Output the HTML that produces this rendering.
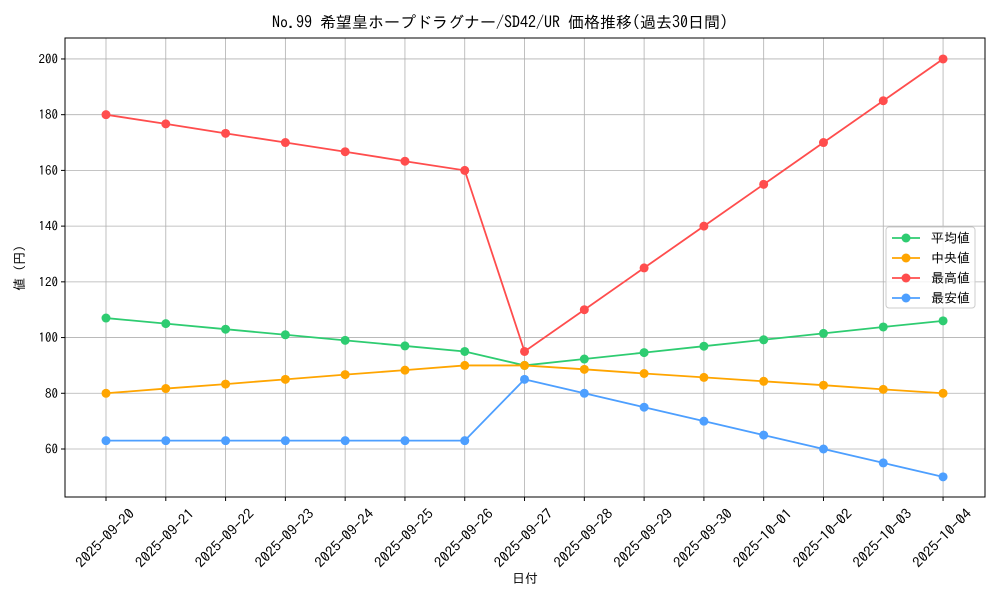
<!DOCTYPE html>
<html><head><meta charset="utf-8"><style>
body{margin:0;background:#fff}
svg text{font-family:"IPAGothic","Liberation Sans",sans-serif;fill:#000}
</style></head><body>
<svg id="c" width="1000" height="600" xmlns="http://www.w3.org/2000/svg"></svg>
<script>
const s=document.getElementById('c');
const L=65,R=985,T=38,B=497;
const X=i=>106+i*59.79, Y=v=>449-(v-60)*2.786;
let h='<rect width="1000" height="600" fill="#fff"/>';
const dates=["2025-09-20","2025-09-21","2025-09-22","2025-09-23","2025-09-24","2025-09-25","2025-09-26","2025-09-27","2025-09-28","2025-09-29","2025-09-30","2025-10-01","2025-10-02","2025-10-03","2025-10-04"];
for(let i=0;i<15;i++){const x=X(i);h+=`<line x1="${x}" y1="${T}" x2="${x}" y2="${B}" stroke="#b0b0b0" stroke-width="0.8"/>`;
h+=`<line x1="${x}" y1="${B}" x2="${x}" y2="${B+4}" stroke="#000"/>`;
h+=`<text transform="translate(${x-1},${538}) rotate(-45)" text-anchor="middle" font-size="14" dy="0.35em" textLength="76" lengthAdjust="spacingAndGlyphs">${dates[i]}</text>`;}
for(let v=60;v<=200;v+=20){const y=Y(v);h+=`<line x1="${L}" y1="${y}" x2="${R}" y2="${y}" stroke="#b0b0b0" stroke-width="0.8"/>`;
h+=`<line x1="${L-4}" y1="${y}" x2="${L}" y2="${y}" stroke="#000"/><text x="${L-7}" y="${y+4.5}" text-anchor="end" font-size="13">${v}</text>`;}
h+=`<rect x="${L}" y="${T}" width="${R-L}" height="${B-T}" fill="none" stroke="#000" stroke-width="1"/>`;
const S=[["#2ecc71",[107,105,103,101,99,97,95,90,92.3,94.6,96.9,99.2,101.5,103.8,106]],
["#ffa500",[80,81.7,83.3,85,86.7,88.3,90,90,88.6,87.1,85.7,84.3,82.9,81.4,80]],
["#ff4d4d",[180,176.7,173.3,170,166.7,163.3,160,95,110,125,140,155,170,185,200]],
["#4d9fff",[63,63,63,63,63,63,63,85,80,75,70,65,60,55,50]]];
for(const [c,d] of S){h+=`<polyline fill="none" stroke="${c}" stroke-width="1.8" points="${d.map((v,i)=>X(i)+','+Y(v)).join(' ')}"/>`;
d.forEach((v,i)=>h+=`<circle cx="${X(i)}" cy="${Y(v)}" r="4.5" fill="${c}"/>`);}
h+=`<rect x="886" y="227" width="89" height="81" rx="3" fill="#fff" fill-opacity="0.8" stroke="#ccc"/>`;
const names=["平均値","中央値","最高値","最安値"];
S.forEach(([c],i)=>{const y=238+i*20;h+=`<line x1="892" y1="${y}" x2="920" y2="${y}" stroke="${c}" stroke-width="1.8"/><circle cx="906" cy="${y}" r="4.5" fill="${c}"/><text x="931" y="${y+4.5}" font-size="13">${names[i]}</text>`;});
h+=`<text x="500" y="28" text-anchor="middle" font-size="16">No.99 希望皇ホープドラグナー/SD42/UR 価格推移(過去30日間)</text>`;
h+=`<text x="525" y="583" text-anchor="middle" font-size="13">日付</text>`;
h+=`<text transform="translate(24,268) rotate(-90)" text-anchor="middle" font-size="13">値 (円)</text>`;
s.innerHTML=h;
</script>
</body></html>
